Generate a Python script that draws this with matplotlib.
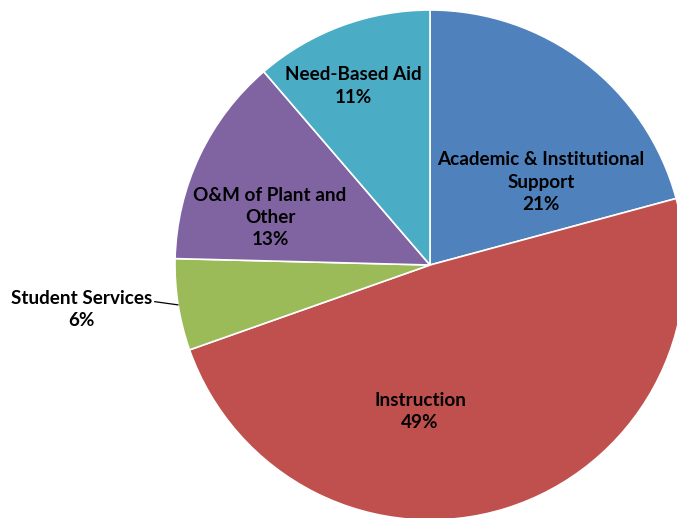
import numpy as np
import matplotlib.pyplot as plt

# data
categories = ['Academic & Institutional\nSupport', 'Instruction', 'Student Services',
              'O&M of Plant and\nOther', 'Need-Based Aid']
shares = [20.8, 48.8, 5.8, 13.3, 11.3]
pct_labels = ['21%', '49%', '6%', '13%', '11%']
colors = ['#4F81BD', '#C0504D', '#9BBB59', '#8064A2', '#4BACC6']

# label positions (axes data units, pie radius = 1)
label_pos = [(0.435, 0.325), (-0.039, -0.573), (-1.368, -0.176),
             (-0.627, 0.186), (-0.302, 0.702)]

fig = plt.figure(figsize=(6.77, 5.18), dpi=100)
ax = fig.add_axes([0, 0, 1, 1])

wedges, _ = ax.pie(shares, colors=colors, startangle=90, counterclock=False,
                   radius=1, wedgeprops=dict(edgecolor='white', linewidth=1.2))

fs = 13.6
for i, w in enumerate(wedges):
    txt = categories[i] + '\n' + pct_labels[i]
    if categories[i] == 'Student Services':
        mid = np.deg2rad((w.theta1 + w.theta2) / 2)
        ax.annotate(txt, xy=(np.cos(mid), np.sin(mid)), xytext=label_pos[i],
                    ha='center', va='center', fontsize=fs, fontweight='bold',
                    family='Lato', linespacing=1.37,
                    arrowprops=dict(arrowstyle='-', color='black', lw=0.9,
                                    relpos=(1.0, 0.72), shrinkA=0, shrinkB=0))
    else:
        ax.text(label_pos[i][0], label_pos[i][1], txt, ha='center', va='center',
                fontsize=fs, fontweight='bold', family='Lato', linespacing=1.37)

ax.set_xlim(-430 / 255, 247 / 255)
ax.set_ylim(-253 / 255, 265 / 255)
ax.set_aspect('equal')
ax.axis('off')

fig.savefig('out.png', dpi=100)
